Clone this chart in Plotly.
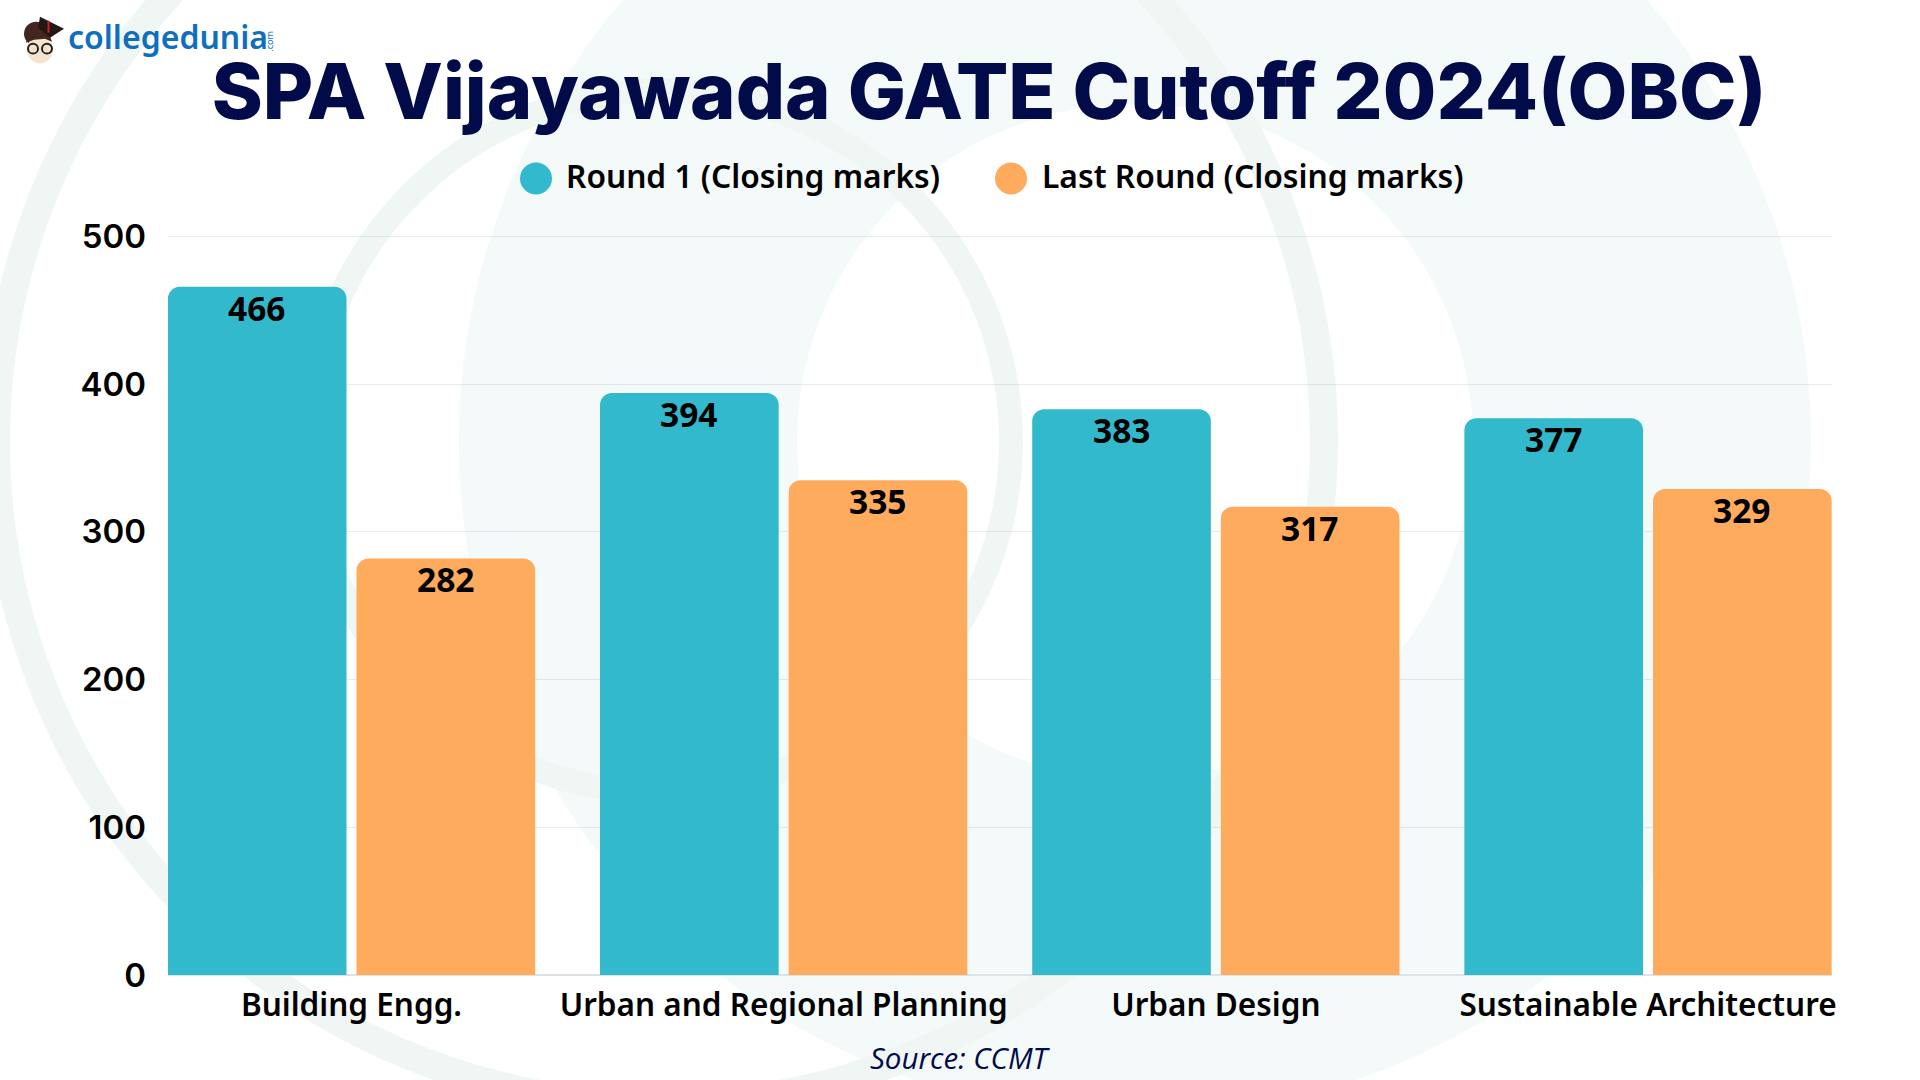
import plotly.graph_objects as go

categories = ["Building Engg.", "Urban and Regional Planning", "Urban Design", "Sustainable Architecture"]
round1 = [466, 394, 383, 377]
last_round = [282, 335, 317, 329]
y_ticks = [0, 100, 200, 300, 400, 500]

TEAL = "#33B9CC"
ORANGE = "#FFAB5E"
NAVY = "#020B4A"
L, R, T, B = 168, 1832, 234.5, 975
Y_TOP = 501

def px(x): return (x - L) / (R - L)
def py(y): return (B - y) / (B - T)

def ring(cx, cy, r, width, color, layer="below"):
    rm = r - width / 2
    return dict(type="circle", xref="paper", yref="paper", layer=layer,
                x0=px(cx - rm), x1=px(cx + rm), y0=py(cy + rm), y1=py(cy - rm),
                line=dict(color=color, width=width), fillcolor="rgba(0,0,0,0)")

def disc(cx, cy, rx, ry, color, layer="above"):
    return dict(type="circle", xref="paper", yref="paper", layer=layer,
                x0=px(cx - rx), x1=px(cx + rx), y0=py(cy + ry), y1=py(cy - ry),
                line=dict(width=0), fillcolor=color)

def poly(points, color):
    d = "M" + "L".join(f"{px(x):.5f},{py(y):.5f}" for x, y in points) + "Z"
    return dict(type="path", xref="paper", yref="paper", path=d, line=dict(width=0), fillcolor=color)

fig = go.Figure()
fig.add_bar(name="Round 1 (Closing marks)", x=categories, y=round1, marker_color=TEAL)
fig.add_bar(name="Last Round (Closing marks)", x=categories, y=last_round, marker_color=ORANGE)
fig.update_traces(marker_line_width=0, hoverinfo="x+y+name")

shapes = [
    ring(1135, 441, 676, 338, "#F4FAF9"),
    ring(660, 441, 678, 28, "#F0F6F4"),
    ring(660, 441, 363, 24, "#F0F6F4"),
    # legend swatches
    disc(536, 178, 16, 16, TEAL), disc(1011, 178, 16, 16, ORANGE),
    # logo mascot
    disc(36, 33, 12, 12, "#43261F"),
    disc(40, 49, 13, 14, "#F6E4CE"),
    poly([(26, 42), (29, 28), (48, 30), (52, 41), (45, 38), (34, 39)], "#43261F"),
    poly([(38, 27), (40, 16), (64, 28), (50, 37)], "#231815"),
    poly([(47.5, 20), (49.5, 20), (49.5, 32), (47.5, 32)], "#C8201E"),
    ring(33, 48, 6, 2, "#222222", layer="above"),
    ring(47, 48, 6, 2, "#222222", layer="above"),
]

def text(s, x, y, size, color="#000000", family="Noto Sans", weight=600, anchor="left", italic=False, angle=0):
    return dict(text=s, xref="paper", yref="paper", x=px(x), y=py(y), xanchor=anchor, yanchor="middle",
                showarrow=False, textangle=angle,
                font=dict(family=family, size=size, color=color, weight=weight,
                          style="italic" if italic else "normal"))

annotations = [
    text("Round 1 (Closing marks)", 564, 175, 31.7),
    text("Last Round (Closing marks)", 1040, 175, 31.8),
    text("Source: CCMT", 960, 1058, 29.5, color=NAVY, family="Open Sans", weight=400, anchor="center", italic=True),
    text("collegedunia", 66, 36, 32, color="#0F6FBF", family="Noto Sans", weight=600),
    text(".com", 270, 41, 9, color="#0F6FBF", family="Noto Sans", weight=400, anchor="center", angle=-90),
]

for values, shift in ((round1, -94.3), (last_round, 94.3)):
    for cat, v in zip(categories, values):
        annotations.append(dict(
            x=cat, y=v, xref="x", yref="y", text=str(v), showarrow=False,
            xshift=shift, yshift=-21, xanchor="center", yanchor="middle",
            font=dict(family="Noto Sans", size=33.5, color="#000000", weight=700)))

fig.update_layout(
    width=1920, height=1080, autosize=False,
    margin=dict(l=L, r=1920 - R, t=T, b=1080 - B, pad=0),
    paper_bgcolor="#FFFFFF", plot_bgcolor="rgba(0,0,0,0)",
    barmode="group", bargap=0.127, bargroupgap=0.053, barcornerradius=12,
    showlegend=False,
    title=dict(text="SPA Vijayawada GATE Cutoff 2024(OBC)", x=989 / 1920, xanchor="center",
               y=1 - 92 / 1080, yanchor="middle",
               font=dict(family="Inter", size=77.5, color=NAVY, weight=800)),
    shapes=shapes, annotations=annotations,
    xaxis=dict(type="category", range=[-0.4246, 3.4257], showgrid=False, showline=False, zeroline=False,
               ticks="", ticklabelstandoff=8,
               tickfont=dict(family="Noto Sans", size=31.5, color="#000000", weight=600)),
    yaxis=dict(range=[0, Y_TOP], tickvals=y_ticks, gridcolor="rgba(150,165,165,0.22)", gridwidth=1,
               zeroline=True, zerolinecolor="#DDE3E3", zerolinewidth=2, showline=False, ticks="",
               ticklabelstandoff=21,
               tickfont=dict(family="Inter", size=33, color="#000000", weight=600)),
)

fig.write_html("out.html", config=dict(displayModeBar=False), post_script="document.body.style.margin='0';")
